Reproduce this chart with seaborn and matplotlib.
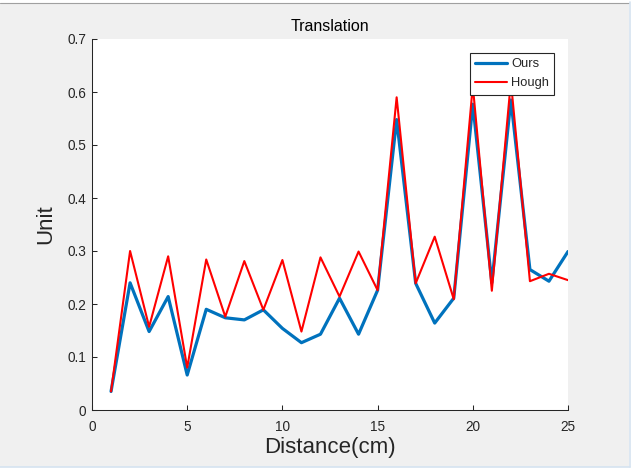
import matplotlib
matplotlib.use("Agg")
import matplotlib.pyplot as plt
import seaborn as sns
import pandas as pd
from matplotlib.patches import Rectangle
from matplotlib.lines import Line2D

distance = list(range(1, 26))
ours = [0.035, 0.240, 0.148, 0.214, 0.066, 0.190, 0.174, 0.170, 0.189, 0.154,
        0.127, 0.143, 0.211, 0.143, 0.226, 0.548, 0.239, 0.164, 0.211, 0.577,
        0.240, 0.585, 0.265, 0.243, 0.299]
hough = [0.035, 0.300, 0.157, 0.290, 0.080, 0.284, 0.176, 0.281, 0.189, 0.283,
         0.148, 0.288, 0.214, 0.299, 0.226, 0.590, 0.239, 0.327, 0.209, 0.612,
         0.225, 0.620, 0.243, 0.257, 0.245]
xticks = [0, 5, 10, 15, 20, 25]
yticks = [0, 0.1, 0.2, 0.3, 0.4, 0.5, 0.6, 0.7]
yticklabels = ["0", "0.1", "0.2", "0.3", "0.4", "0.5", "0.6", "0.7"]

df_ours = pd.DataFrame({"Distance": distance, "Value": ours})
df_hough = pd.DataFrame({"Distance": distance, "Value": hough})

sns.set_style("white")
plt.rcParams["font.family"] = ["Liberation Sans", "DejaVu Sans"]

fig = plt.figure(figsize=(6.38, 4.72), dpi=100)
fig.patch.set_facecolor("white")
# MATLAB-like gray figure panel with window edges
fig.add_artist(Rectangle((0, 1 - 467 / 472), 629 / 638, (467 - 3) / 472,
                         transform=fig.transFigure, facecolor="#f0f0f0",
                         edgecolor="none", zorder=-10))
fig.add_artist(Line2D([0, 629 / 638], [1 - 2.5 / 472, 1 - 2.5 / 472],
                      transform=fig.transFigure, color="#a0a0a0", lw=0.8))
fig.add_artist(Line2D([629.5 / 638, 629.5 / 638], [1 - 467 / 472, 1 - 2 / 472],
                      transform=fig.transFigure, color="#d5e3f0", lw=1.2))
fig.add_artist(Line2D([0, 630 / 638], [1 - 467 / 472, 1 - 467 / 472],
                      transform=fig.transFigure, color="#d5e3f0", lw=1.2))

ax = fig.add_axes([92 / 638, 1 - 410 / 472, (568 - 92) / 638, (410 - 39) / 472])
ax.set_facecolor("white")

sns.lineplot(data=df_ours, x="Distance", y="Value", ax=ax, color="#0072BD",
             linewidth=2.3, label="Ours")
sns.lineplot(data=df_hough, x="Distance", y="Value", ax=ax, color="#FF0000",
             linewidth=1.5, label="Hough")

ax.set_xlim(0, 25)
ax.set_ylim(0, 0.7)
ax.set_xticks(xticks)
ax.set_xticklabels([str(t) for t in xticks])
ax.set_yticks(yticks)
ax.set_yticklabels(yticklabels)

for s in ["top", "right"]:
    ax.spines[s].set_visible(False)
for s in ["left", "bottom"]:
    ax.spines[s].set_color("#262626")
    ax.spines[s].set_linewidth(0.75)

ax.tick_params(axis="both", direction="in", length=3.5, width=0.75,
               colors="#262626", labelsize=9.8, labelcolor="#262626")
ax.tick_params(axis="x", pad=7)
ax.tick_params(axis="y", pad=4)
ax.tick_params(left=True, bottom=True)

ax.set_xlabel("Distance(cm)", fontsize=16, color="#262626", labelpad=2)
ax.set_ylabel("Unit", fontsize=16, color="#262626", labelpad=8)
ax.set_title("Translation", fontsize=11.5, color="#000000", pad=6)

leg = ax.legend(loc="upper right", bbox_to_anchor=((554 - 92) / 476, (410 - 53) / 371),
                fontsize=9.3, frameon=True, fancybox=False, framealpha=1,
                edgecolor="#262626", handlelength=2.5, handletextpad=0.3,
                borderpad=0.4, labelspacing=0.55, borderaxespad=0)
leg.get_frame().set_linewidth(0.8)

fig.savefig("out.png", dpi=100, facecolor=fig.get_facecolor())
